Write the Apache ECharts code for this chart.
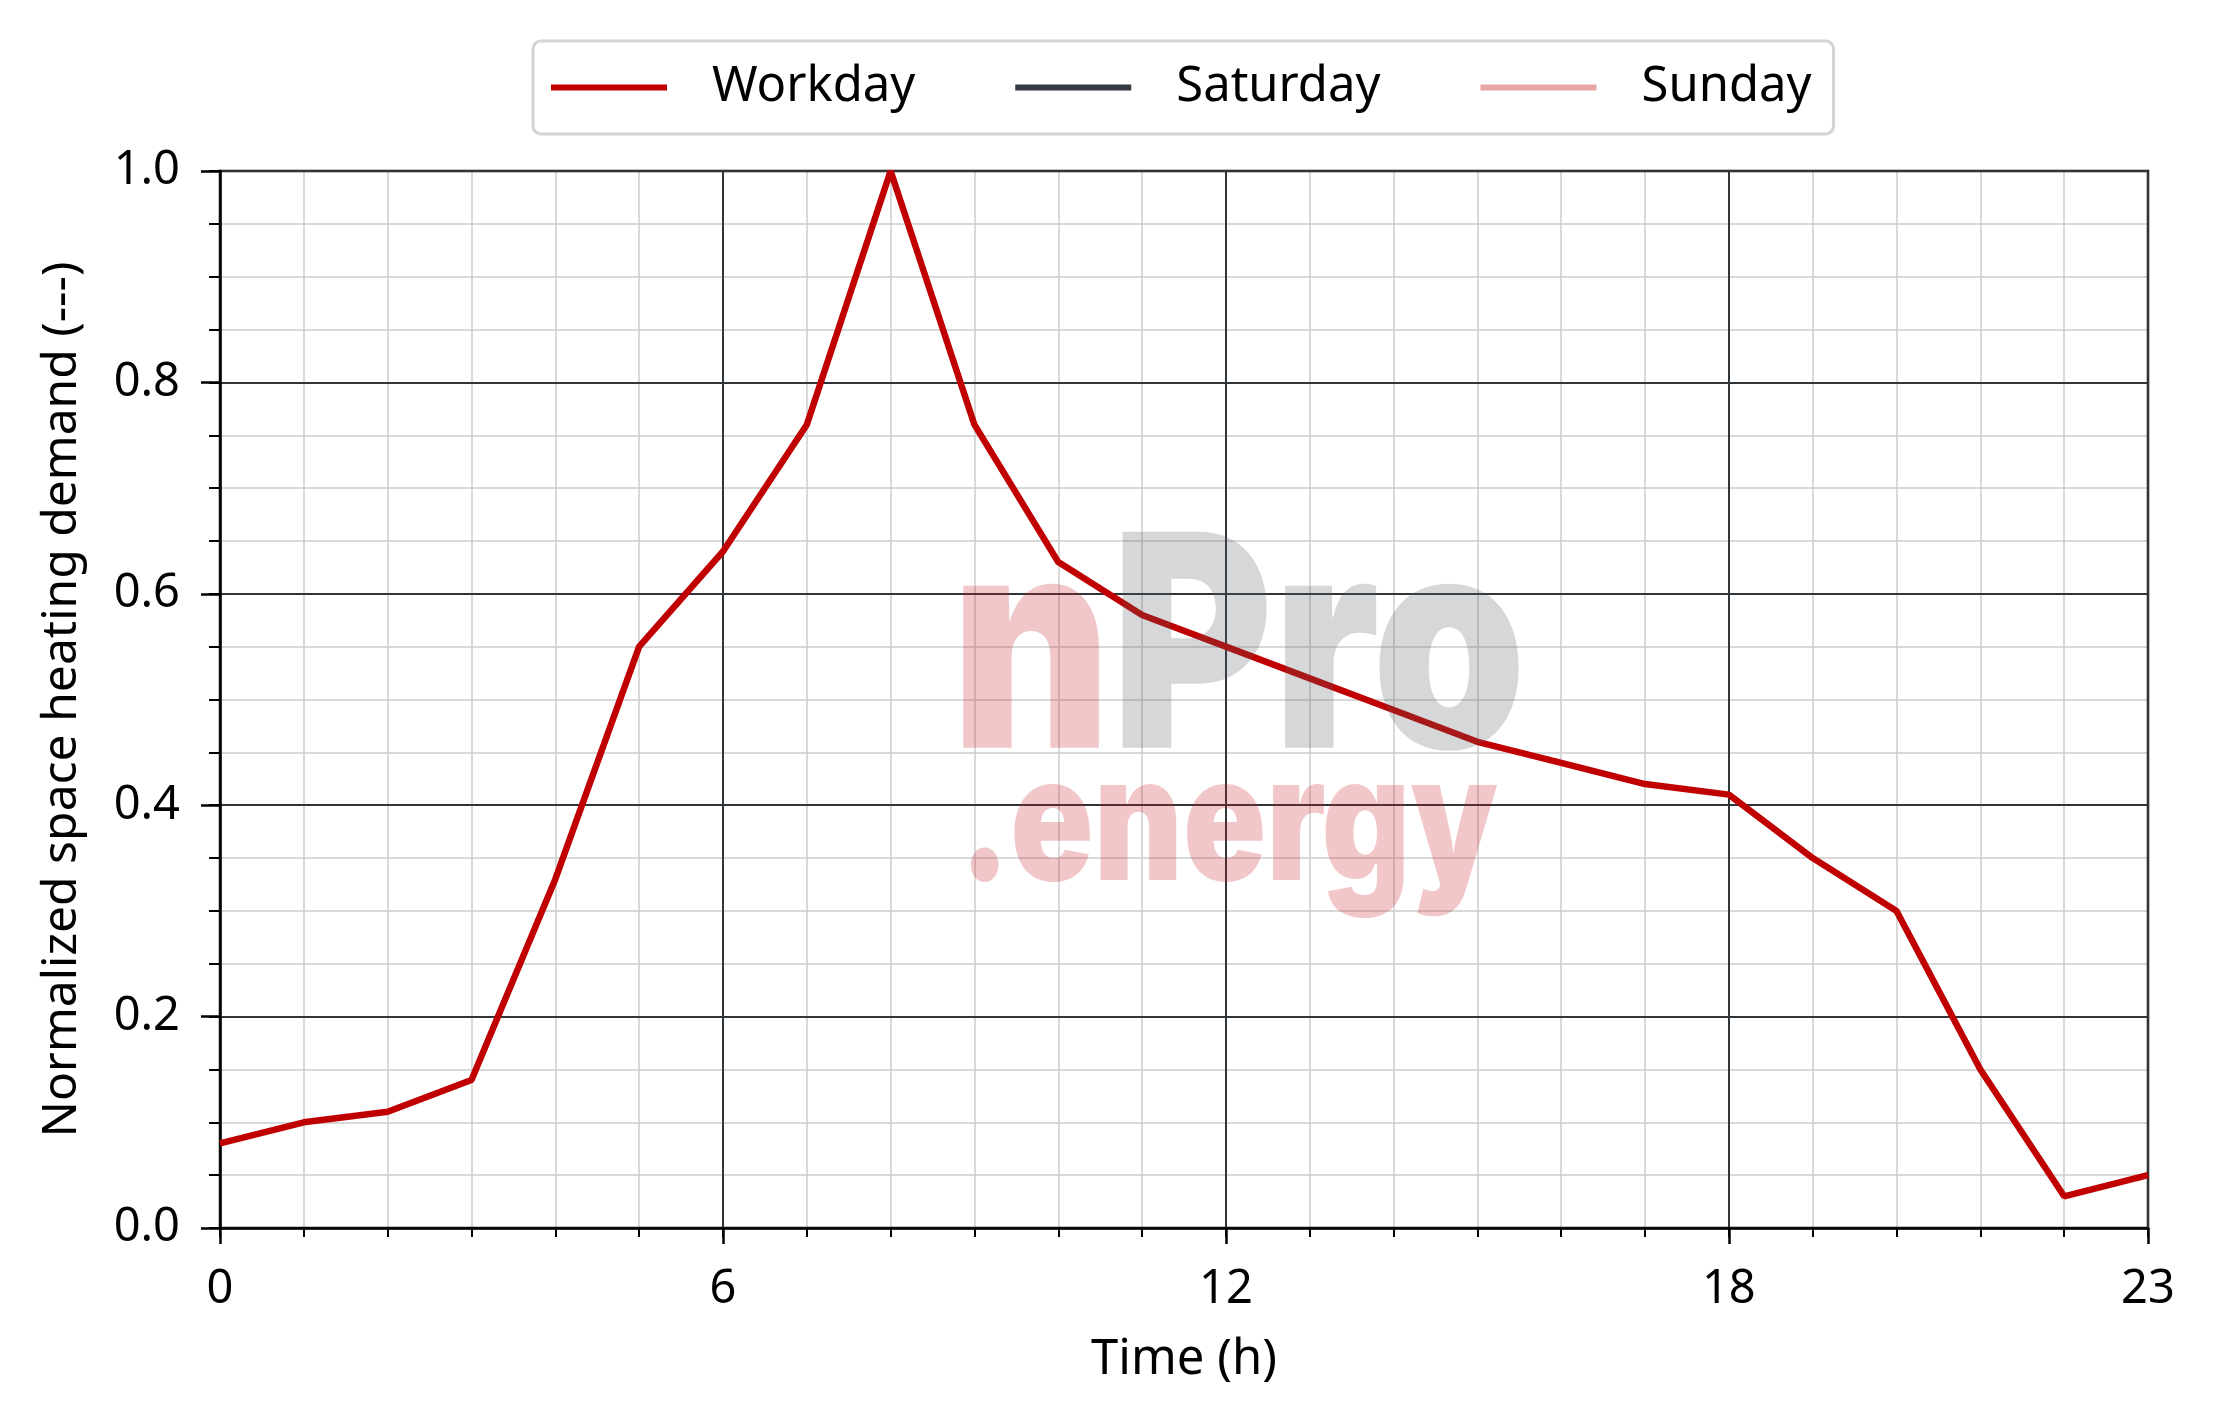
<!DOCTYPE html>
<html>
<head>
<meta charset="utf-8">
<script src="https://cdn.jsdelivr.net/npm/echarts@6/dist/echarts.min.js"></script>
<style>
html,body{margin:0;padding:0;background:#fff;}
#chart{width:2216px;height:1424px;}
</style>
</head>
<body>
<div id="chart"></div>
<script>
const hours = [0,1,2,3,4,5,6,7,8,9,10,11,12,13,14,15,16,17,18,19,20,21,22,23];
const workday = [0.08,0.10,0.11,0.14,0.33,0.55,0.64,0.76,1.00,0.76,0.63,0.58,0.55,0.52,0.49,0.46,0.44,0.42,0.41,0.35,0.30,0.15,0.03,0.05];
const saturday = [];
const sunday = [];
const seriesNames = ['Workday','Saturday','Sunday'];
const xTitle = 'Time (h)';
const yTitle = 'Normalized space heating demand (---)';

const FONT = 'Noto Sans';
const pair = (vals) => vals.map((v,i)=>[hours[i], v]);

const chart = echarts.init(document.getElementById('chart'), null, {renderer:'canvas'});
chart.setOption({
  animation:false,
  backgroundColor:'#ffffff',
  grid:{left:220,right:68,top:171,bottom:196,show:true,borderColor:'#000',borderWidth:2.5,backgroundColor:'transparent',z:3},
  legend:{
    left:533, top:41,
    data:seriesNames,
    icon:'rect', itemWidth:116, itemHeight:6, itemGap:100,
    padding:[22,22,22,18],
    borderColor:'#d4d4d4', borderWidth:3, borderRadius:8,
    backgroundColor:'#fff',
    textStyle:{fontFamily:FONT,fontSize:49,color:'#000',padding:[0,0,0,40]}
  },
  xAxis:[
    {type:'value',min:0,max:23,interval:6,position:'bottom',z:4,
     axisLine:{onZero:false,lineStyle:{color:'#000',width:2.5}},
     axisTick:{length:16,lineStyle:{color:'#000',width:2.5}},
     axisLabel:{fontFamily:FONT,fontSize:47,color:'#000',margin:38,showMaxLabel:true},
     splitLine:{show:true,lineStyle:{color:'#30353a',width:2}},
     name:xTitle,nameLocation:'middle',nameGap:108,
     nameTextStyle:{fontFamily:FONT,fontSize:49,color:'#000'}},
    {type:'value',min:0,max:23,interval:1,position:'bottom',z:1,
     axisLine:{show:false,onZero:false},
     axisTick:{length:9,lineStyle:{color:'#000',width:2}},
     axisLabel:{show:false},
     splitLine:{show:true,lineStyle:{color:'#cccccc',width:1.5}}}
  ],
  yAxis:[
    {type:'value',min:0,max:1,interval:0.2,position:'left',z:4,
     axisLine:{onZero:false,lineStyle:{color:'#000',width:2.5}},
     axisTick:{length:19,lineStyle:{color:'#000',width:2.5}},
     axisLabel:{fontFamily:FONT,fontSize:47,color:'#000',margin:40,formatter:v=>v.toFixed(1)},
     splitLine:{show:true,lineStyle:{color:'#30353a',width:2}},
     name:yTitle,nameLocation:'middle',nameGap:134,
     nameTextStyle:{fontFamily:FONT,fontSize:48,color:'#000'}},
    {type:'value',min:0,max:1,interval:0.05,position:'left',z:1,
     axisLine:{show:false,onZero:false},
     axisTick:{length:11,lineStyle:{color:'#000',width:2}},
     axisLabel:{show:false},
     splitLine:{show:true,lineStyle:{color:'#cccccc',width:1.5}}}
  ],
  series:[
    {name:'Workday',type:'line',xAxisIndex:0,yAxisIndex:0,data:pair(workday),showSymbol:false,z:5,
     color:'#c00000',lineStyle:{color:'#c00000',width:6.5},itemStyle:{color:'#c00000'}},
    {name:'Saturday',type:'line',xAxisIndex:0,yAxisIndex:0,data:saturday,showSymbol:false,z:4,
     color:'#343a40',lineStyle:{color:'#343a40',width:6.5},itemStyle:{color:'#343a40'}},
    {name:'Sunday',type:'line',xAxisIndex:0,yAxisIndex:0,data:sunday,showSymbol:false,z:4,
     color:'#e8a5a5',lineStyle:{color:'#e8a5a5',width:6.5},itemStyle:{color:'#e8a5a5'}}
  ],
  graphic:[
    {type:'text',x:951,y:510,scaleX:0.83,z:100,silent:true,
     style:{text:'{a|n}{b|Pro}',rich:{
       a:{fontWeight:900,fontFamily:'Inter',fontSize:297,fill:'rgba(200,30,40,0.25)'},
       b:{fontWeight:900,fontFamily:'Inter',fontSize:297,fill:'rgba(90,95,100,0.25)'}}}},
    {type:'text',x:959,y:741,scaleX:0.79,z:100,silent:true,
     style:{text:'.energy',fontWeight:900,fontFamily:'Inter',fontSize:174,fill:'rgba(200,30,40,0.25)'}}
  ]
});
</script>
</body>
</html>
